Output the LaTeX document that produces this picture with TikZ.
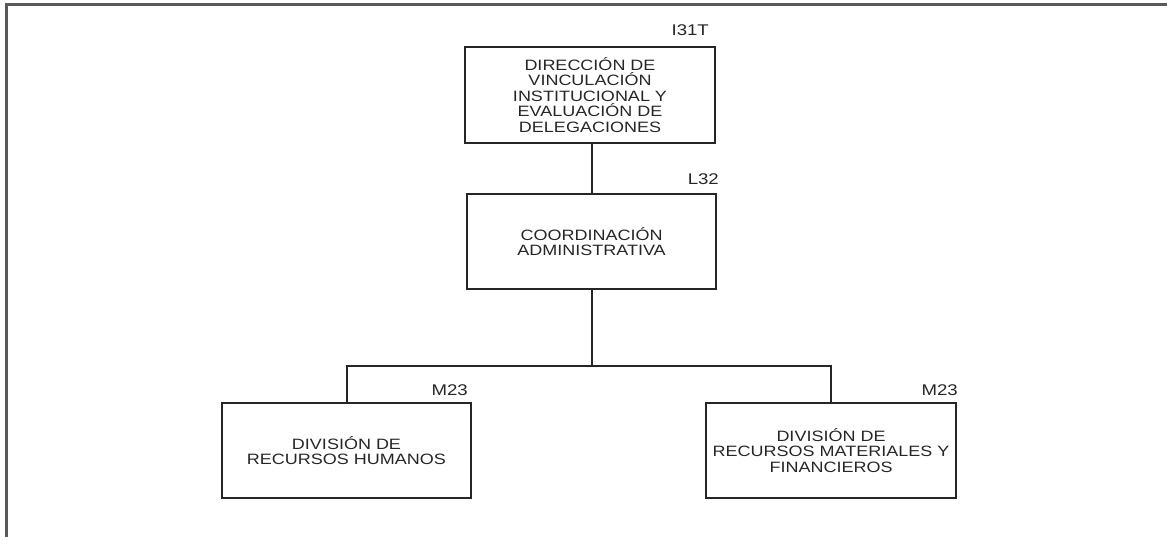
\documentclass[tikz,border=0pt]{standalone}
\usepackage{fontspec}
\setmainfont{Liberation Sans}
\newfontfamily\bxf{Liberation Sans}[FakeStretch=1.2]
\begin{document}
\begin{tikzpicture}[x=1pt,y=1pt,
  box/.style={draw=black!85, line width=2pt, inner sep=0pt, align=center,
    text=black!85, font=\bxf\fontsize{15}{15.5}\selectfont},
  lbl/.style={inner sep=0pt, text=black!85, font=\bxf\fontsize{15.5}{15.5}\selectfont},
  conn/.style={draw=black!85, line width=2pt},
  frame/.style={draw=black!65, line width=3pt}]
\useasboundingbox (0,0) rectangle (1167,537);
% outer frame
\coordinate (f1) at (6,0);
\coordinate (f2) at (6,532);
\coordinate (f3) at (1167,532);
\draw[frame] (f1) -- (f2) -- (f3);
% boxes
\node[box, minimum width=250pt, minimum height=96pt] (dir) at (590,442)
  {DIRECCIÓN DE\\VINCULACIÓN\\INSTITUCIONAL Y\\EVALUACIÓN DE\\DELEGACIONES};
\node[box, minimum width=249pt, minimum height=95pt] (coord) at (591.5,295.5)
  {COORDINACIÓN\\ADMINISTRATIVA};
\node[box, minimum width=249pt, minimum height=95pt] (rh) at (346.5,86.5)
  {DIVISIÓN DE\\RECURSOS HUMANOS};
\node[box, minimum width=250pt, minimum height=95pt] (rm) at (831,86.5)
  {DIVISIÓN DE\\RECURSOS MATERIALES Y\\FINANCIEROS};
% labels
\node[lbl, anchor=base east] (l1) at ([xshift=-7pt,yshift=10pt]dir.north east) {I31T};
\node[lbl, anchor=base east] (l2) at ([xshift=2pt,yshift=8pt]coord.north east) {L32};
\node[lbl, anchor=base east] (l3) at ([xshift=-4pt,yshift=6pt]rh.north east) {M23};
\node[lbl, anchor=base east] (l4) at ([xshift=1pt,yshift=6pt]rm.north east) {M23};
% connectors
\coordinate (bar) at (591.5,171);
\draw[conn] (dir.south -| coord.north) -- (coord.north);
\draw[conn] (coord.south) -- (bar);
\draw[conn] (rh.north) |- (bar) -| (rm.north);
\end{tikzpicture}
\end{document}
